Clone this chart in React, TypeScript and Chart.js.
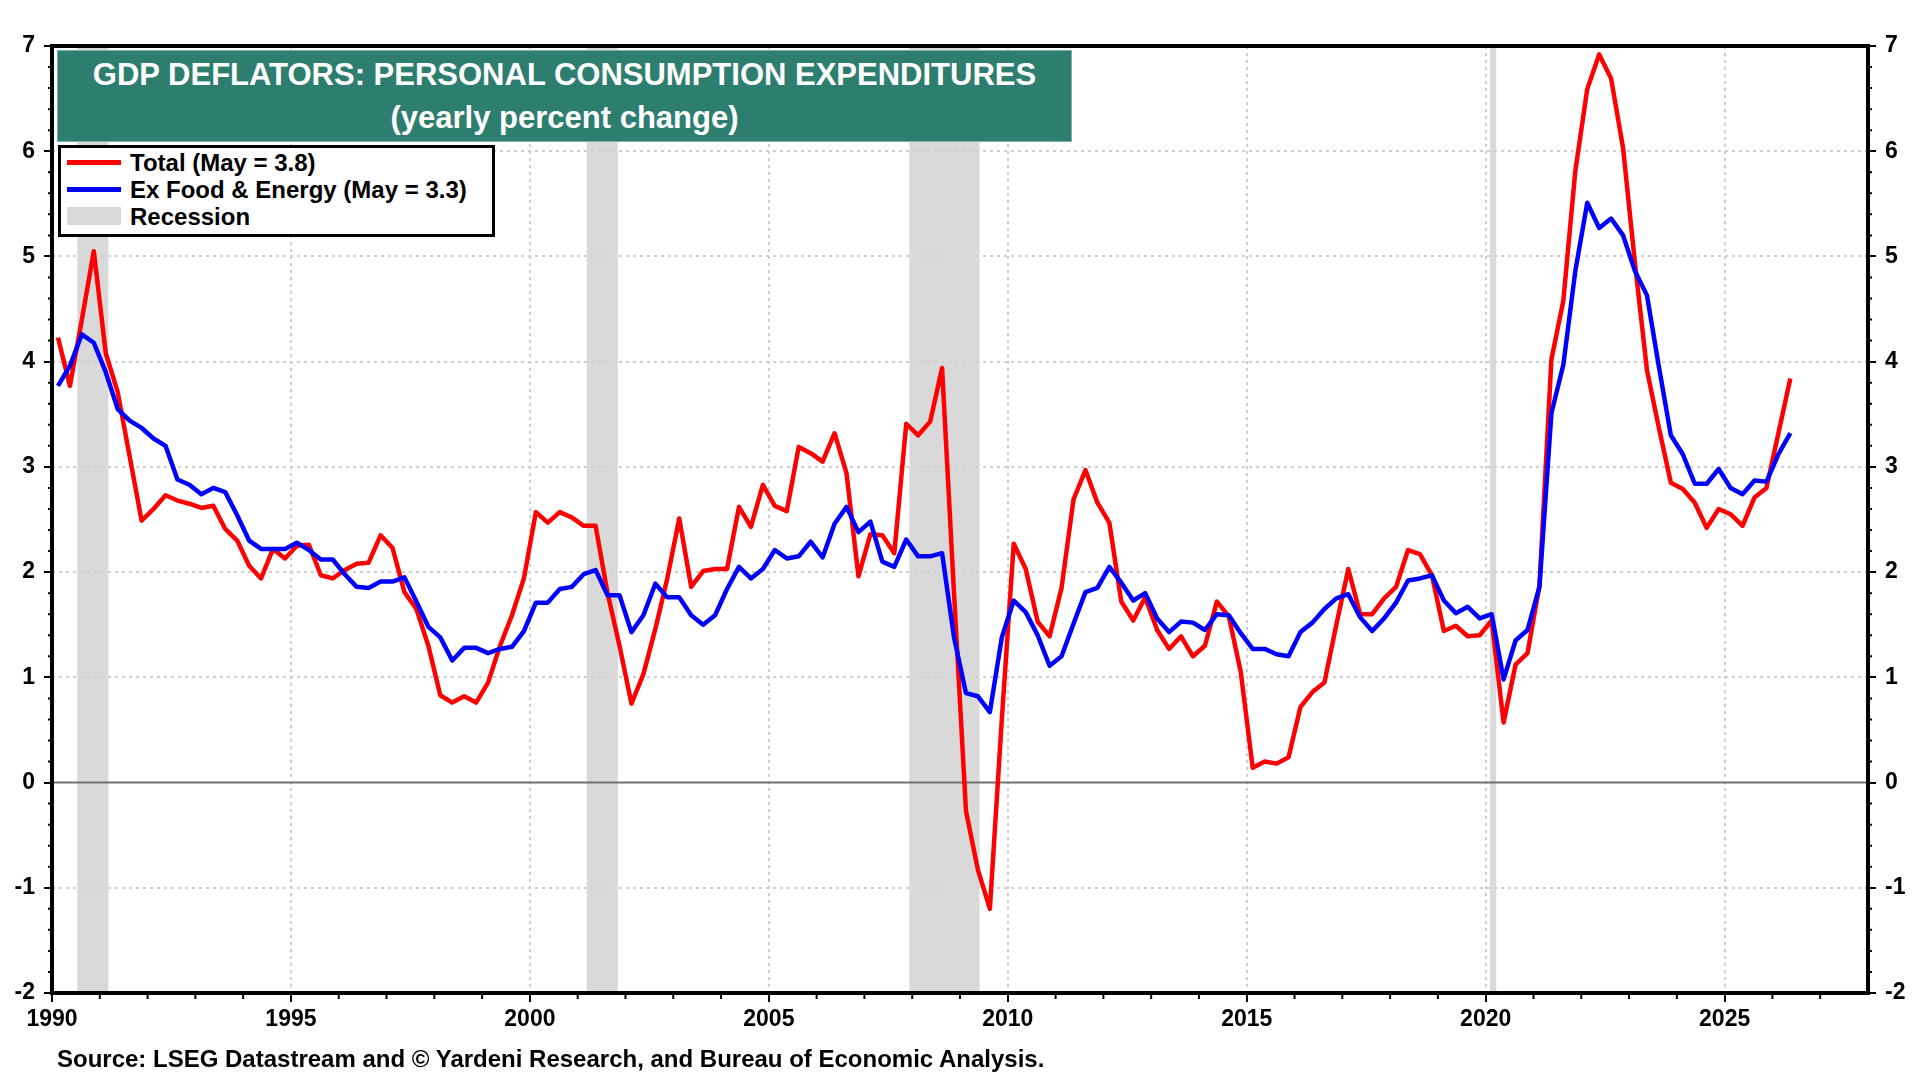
import React, { FC, useEffect, useRef } from 'react'
import Chart, { ChartConfiguration, Plugin } from 'chart.js/auto'

const FONT = "'Liberation Sans', Arial, Helvetica, sans-serif"

// axis labels
const yearTicks = [1990, 1995, 2000, 2005, 2010, 2015, 2020, 2025]
const valueTicks = [-2, -1, 0, 1, 2, 3, 4, 5, 6, 7]

// quarterly observations, first one is Q1 1990 (plotted mid-quarter)
const firstQuarter = 1990.125
const quarterStep = 0.25

// PCE deflator, yearly % change
const totalPce = [
  4.23, 3.77, 4.4, 5.05, 4.08, 3.71, 3.1, 2.49, 2.6, 2.73,
  2.68, 2.65, 2.61, 2.63, 2.41, 2.3, 2.06, 1.94, 2.22, 2.13,
  2.25, 2.26, 1.97, 1.94, 2.02, 2.08, 2.09, 2.35, 2.23, 1.81,
  1.65, 1.3, 0.83, 0.76, 0.82, 0.76, 0.95, 1.3, 1.59, 1.94,
  2.57, 2.47, 2.57, 2.52, 2.44, 2.44, 1.8, 1.3, 0.75, 1.03,
  1.46, 1.94, 2.51, 1.86, 2.01, 2.03, 2.03, 2.62, 2.43, 2.83,
  2.63, 2.58, 3.19, 3.13, 3.05, 3.32, 2.94, 1.96, 2.36, 2.35,
  2.18, 3.41, 3.3, 3.43, 3.94, 1.8, -0.27, -0.83, -1.2, 0.6,
  2.27, 2.03, 1.53, 1.39, 1.85, 2.69, 2.97, 2.66, 2.47, 1.72,
  1.54, 1.76, 1.45, 1.27, 1.39, 1.2, 1.3, 1.72, 1.58, 1.05,
  0.14, 0.2, 0.18, 0.24, 0.72, 0.86, 0.95, 1.5, 2.03, 1.6,
  1.6, 1.75, 1.86, 2.21, 2.17, 1.97, 1.44, 1.49, 1.39, 1.4,
  1.54, 0.57, 1.12, 1.23, 1.87, 4.02, 4.58, 5.81, 6.59, 6.92,
  6.69, 6.03, 4.93, 3.92, 3.37, 2.85, 2.79, 2.66, 2.42, 2.6,
  2.55, 2.44, 2.71, 2.8, 3.32, 3.84,
]

// PCE deflator ex food & energy, yearly % change
const corePce = [
  3.77, 3.96, 4.26, 4.18, 3.9, 3.55, 3.44, 3.37, 3.27, 3.2,
  2.88, 2.83, 2.74, 2.8, 2.76, 2.54, 2.3, 2.22, 2.22, 2.22,
  2.28, 2.21, 2.12, 2.12, 1.98, 1.86, 1.85, 1.91, 1.91, 1.95,
  1.72, 1.48, 1.38, 1.16, 1.28, 1.28, 1.23, 1.27, 1.29, 1.44,
  1.71, 1.71, 1.84, 1.86, 1.98, 2.02, 1.78, 1.78, 1.43, 1.59,
  1.89, 1.76, 1.76, 1.59, 1.5, 1.59, 1.84, 2.05, 1.94, 2.03,
  2.21, 2.13, 2.15, 2.29, 2.14, 2.46, 2.62, 2.38, 2.48, 2.1,
  2.05, 2.31, 2.15, 2.15, 2.18, 1.38, 0.85, 0.82, 0.67, 1.38,
  1.73, 1.62, 1.4, 1.11, 1.2, 1.51, 1.81, 1.85, 2.05, 1.9,
  1.73, 1.8, 1.56, 1.43, 1.53, 1.52, 1.45, 1.6, 1.59, 1.42,
  1.27, 1.27, 1.22, 1.2, 1.43, 1.52, 1.65, 1.75, 1.79, 1.57,
  1.44, 1.56, 1.71, 1.92, 1.94, 1.97, 1.73, 1.61, 1.67, 1.56,
  1.6, 0.98, 1.35, 1.45, 1.86, 3.51, 3.97, 4.86, 5.51, 5.27,
  5.36, 5.2, 4.86, 4.63, 3.95, 3.3, 3.12, 2.84, 2.84, 2.98,
  2.8, 2.74, 2.87, 2.86, 3.12, 3.32,
]

// recession periods (fractional years)
const recessionStart = [1990.53, 2001.19, 2007.94, 2020.09]
const recessionEnd = [1991.18, 2001.84, 2009.41, 2020.22]

const toPoints = (values: number[]) =>
  values.map((v, i) => ({ x: firstQuarter + i * quarterStep, y: v }))

const chartDecor: Plugin<'line'> = {
  id: 'chartDecor',
  beforeDraw(chart) {
    const { ctx, chartArea: a, scales } = chart
    ctx.save()
    ctx.fillStyle = '#d9d9d9'
    recessionStart.forEach((start, i) => {
      const x0 = scales.x.getPixelForValue(start)
      const x1 = scales.x.getPixelForValue(recessionEnd[i])
      ctx.fillRect(x0, a.top, x1 - x0, a.bottom - a.top)
    })
    ctx.restore()
  },
  beforeDatasetsDraw(chart) {
    const { ctx, chartArea: a, scales } = chart
    const y0 = scales.y.getPixelForValue(0)
    ctx.save()
    ctx.strokeStyle = '#707070'
    ctx.lineWidth = 2
    ctx.beginPath()
    ctx.moveTo(a.left, y0)
    ctx.lineTo(a.right, y0)
    ctx.stroke()
    ctx.restore()
  },
  afterDraw(chart) {
    const { ctx, chartArea: a, scales } = chart
    ctx.save()
    ctx.strokeStyle = '#000'
    ctx.lineWidth = 2
    ctx.beginPath()
    // minor year ticks
    for (let yr = 1991; yr < 2028; yr++) {
      if (yr % 5 === 0) continue
      const px = scales.x.getPixelForValue(yr)
      ctx.moveTo(px, a.bottom)
      ctx.lineTo(px, a.bottom + 6)
    }
    // minor value ticks, both sides
    for (let k = -10; k <= 35; k++) {
      if (k % 5 === 0) continue
      const py = scales.y.getPixelForValue(k / 5)
      ctx.moveTo(a.left - 4, py)
      ctx.lineTo(a.left, py)
      ctx.moveTo(a.right, py)
      ctx.lineTo(a.right + 4, py)
    }
    ctx.stroke()
    ctx.lineWidth = 4
    ctx.strokeRect(a.left, a.top, a.right - a.left, a.bottom - a.top)
    ctx.restore()
  },
}

const tickFont = { family: FONT, size: 23, weight: 'bold' as const }

const valueAxis = (position: 'left' | 'right', onArea: boolean) => ({
  type: 'linear' as const,
  position,
  min: -2,
  max: 7,
  afterBuildTicks: (scale: any) => {
    scale.ticks = valueTicks.map((v) => ({ value: v }))
  },
  afterFit: (scale: any) => {
    scale.width = 52
  },
  border: { display: false, dash: [3, 4] },
  grid: {
    drawOnChartArea: onArea,
    color: (c: any) => (c.tick && c.tick.value === 0 ? 'rgba(0,0,0,0)' : '#cfcfcf'),
    lineWidth: 2,
    tickLength: 8,
    tickWidth: 2,
    tickColor: '#000',
    tickBorderDash: [],
  },
  ticks: { color: '#000', font: tickFont, padding: 9 },
})

const legendRows = [
  { label: 'Total (May = 3.8)', color: '#ff0000', kind: 'line' },
  { label: 'Ex Food & Energy (May = 3.3)', color: '#0000ff', kind: 'line' },
  { label: 'Recession', color: '#d9d9d9', kind: 'box' },
]

const App: FC = () => {
  const chartRef = useRef<HTMLCanvasElement>(null)
  const chartInstanceRef = useRef<Chart<'line'> | null>(null)

  useEffect(() => {
    if (!chartRef.current) return
    const ctx = chartRef.current.getContext('2d')
    if (!ctx) return

    if (chartInstanceRef.current) {
      chartInstanceRef.current.destroy()
    }

    const config: ChartConfiguration<'line'> = {
      type: 'line',
      data: {
        datasets: [
          {
            label: 'Total',
            data: toPoints(totalPce),
            borderColor: '#ff0000',
            borderWidth: 4.5,
            pointRadius: 0,
            tension: 0,
            borderJoinStyle: 'round',
            order: 2,
          },
          {
            label: 'Ex Food & Energy',
            data: toPoints(corePce),
            borderColor: '#0000ff',
            borderWidth: 4.5,
            pointRadius: 0,
            tension: 0,
            borderJoinStyle: 'round',
            order: 1,
          },
        ],
      },
      options: {
        responsive: false,
        devicePixelRatio: 1,
        animation: false,
        events: [],
        layout: { padding: { top: 46, left: 0, right: 0, bottom: 0 } },
        plugins: {
          legend: { display: false },
          tooltip: { enabled: false },
        },
        scales: {
          x: {
            type: 'linear',
            min: 1990,
            max: 2028,
            afterBuildTicks: (scale: any) => {
              scale.ticks = yearTicks.map((v) => ({ value: v }))
            },
            afterFit: (scale: any) => {
              scale.height = 87
            },
            border: { display: false, dash: [3, 4] },
            grid: {
              color: (c: any) => (c.tick && c.tick.value === 1990 ? 'rgba(0,0,0,0)' : '#cfcfcf'),
              lineWidth: 2,
              tickLength: 9,
              tickWidth: 2,
              tickColor: '#000',
              tickBorderDash: [],
            },
            ticks: {
              color: '#000',
              font: tickFont,
              padding: 4,
              maxRotation: 0,
              callback: (v: any) => String(v),
            },
          },
          y: valueAxis('left', true),
          y2: valueAxis('right', false),
        },
      },
      plugins: [chartDecor],
    }

    chartInstanceRef.current = new Chart(ctx, config)

    return () => {
      if (chartInstanceRef.current) {
        chartInstanceRef.current.destroy()
        chartInstanceRef.current = null
      }
    }
  }, [])

  return (
    <div
      style={{
        position: 'absolute',
        left: 0,
        top: 0,
        width: 1920,
        height: 1080,
        background: '#fff',
        fontFamily: FONT,
        fontWeight: 'bold',
        color: '#000',
        overflow: 'hidden',
      }}
    >
      <canvas
        ref={chartRef}
        width={1920}
        height={1080}
        style={{ position: 'absolute', left: 0, top: 0, width: 1920, height: 1080 }}
      />

      <div
        style={{
          position: 'absolute',
          left: 57,
          top: 50,
          width: 1015,
          height: 92,
          background: '#2e7e70',
          boxSizing: 'border-box',
          border: '1px solid #7fb2a8',
          color: '#fff',
          fontSize: 31,
          textAlign: 'center',
        }}
      >
        <div style={{ position: 'absolute', left: 0, right: 0, top: 5, lineHeight: '38px', whiteSpace: 'nowrap' }}>
          GDP DEFLATORS: PERSONAL CONSUMPTION EXPENDITURES
        </div>
        <div style={{ position: 'absolute', left: 0, right: 0, top: 48, lineHeight: '38px', whiteSpace: 'nowrap' }}>
          (yearly percent change)
        </div>
      </div>

      <div
        style={{
          position: 'absolute',
          left: 58,
          top: 145,
          width: 437,
          height: 92,
          boxSizing: 'border-box',
          border: '3px solid #000',
          background: '#fff',
          fontSize: 24,
        }}
      >
        {legendRows.map((row, i) => (
          <div key={row.label} style={{ position: 'absolute', left: 0, top: 1 + i * 27, height: 27, width: '100%' }}>
            <div
              style={{
                position: 'absolute',
                left: 6,
                width: 54,
                top: row.kind === 'line' ? 11 : 4,
                height: row.kind === 'line' ? 5 : 18,
                background: row.color,
              }}
            />
            <div style={{ position: 'absolute', left: 69, top: 0, lineHeight: '27px', whiteSpace: 'nowrap' }}>
              {row.label}
            </div>
          </div>
        ))}
      </div>

      <div
        style={{
          position: 'absolute',
          left: 57,
          top: 1045,
          fontSize: 24,
          lineHeight: '28px',
          whiteSpace: 'nowrap',
        }}
      >
        Source: LSEG Datastream and © Yardeni Research, and Bureau of Economic Analysis.
      </div>
    </div>
  )
}

export default App
